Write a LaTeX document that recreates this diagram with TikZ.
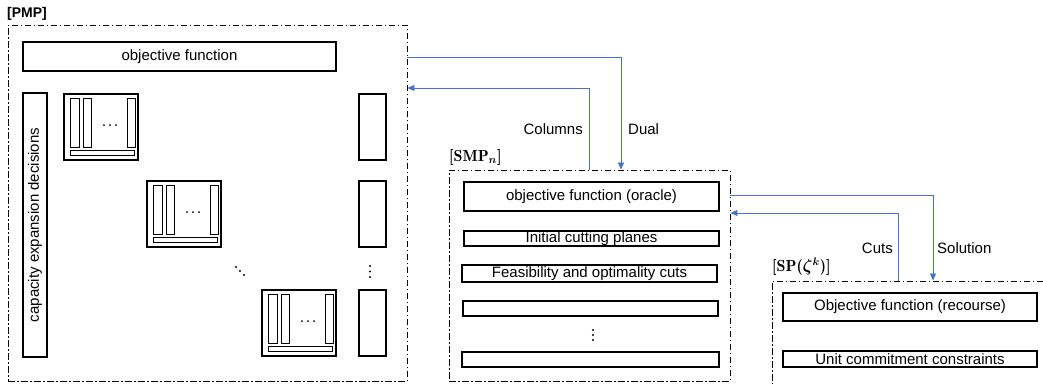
\documentclass[tikz,border=0pt]{standalone}
\usepackage{amsmath,bm}
\usepackage[no-math]{fontspec}
\setmainfont{Liberation Sans}
\usetikzlibrary{arrows.meta}
\definecolor{flowblue}{HTML}{4472C4}
\newcommand{\serifbold}{\fontfamily{lmr}\selectfont\bfseries}
\begin{document}
\begin{tikzpicture}[x=1pt,y=-1pt,
  frame/.style={draw, line width=0.9pt, dash pattern=on 6.5pt off 2.5pt on 1.5pt off 2.5pt, inner sep=0pt},
  box/.style={draw, line width=1.1pt, inner sep=0pt, font=\fontsize{15}{18}\selectfont},
  bar/.style={draw, line width=0.9pt},
  dot/.style={fill, circle, inner sep=0pt, minimum size=2.4pt},
  flow/.style={draw=flowblue, line width=0.8pt, -{Triangle[length=7pt,width=6pt]}},
  lab/.style={font=\fontsize{15}{18}\selectfont, inner sep=0pt},
  title/.style={font=\fontsize{14}{17}\selectfont\bfseries, inner sep=0pt, anchor=west},
  mtitle/.style={font=\fontsize{16}{19}\selectfont\serifbold, inner sep=0pt, anchor=west}]
\useasboundingbox (0,0) rectangle (1043,383);
\clip (0,0) rectangle (1043,383);
% ---------- PMP ----------
\node[title] (pmplab) at (7,14) {[PMP]};
\node[frame, minimum width=399pt, minimum height=356pt] (pmp) at (207.5,203) {};
\node[box, minimum width=313pt, minimum height=29pt] (pobj) at (179.5,56.5) {objective function};
\node[box, minimum width=24pt, minimum height=264pt] (cap) at (35,225) {};
\node[lab, rotate=90] (captext) at (cap.center) {capacity expansion decisions};
\foreach \n/\bx/\by in {b1/64/94, b2/147/181, b3/262/290}{
  \node[box, minimum width=74pt, minimum height=66pt] (\n) at (\bx+37,\by+33) {};
  \begin{scope}[shift={(\bx,\by)}]
    \draw[bar] (6,4) rectangle (15,53);
    \draw[bar] (19,4) rectangle (27,53);
    \draw[bar] (63,4) rectangle (71,53);
    \draw[bar] (6,56) rectangle (70,61);
    \node[dot, minimum size=2pt] (\n d1) at (40,31) {};
    \node[dot, minimum size=2pt] (\n d2) at (46,31) {};
    \node[dot, minimum size=2pt] (\n d3) at (52,31) {};
  \end{scope}
}
\node[box, minimum width=27pt, minimum height=66pt] (r1) at (372.5,127) {};
\node[box, minimum width=27pt, minimum height=66pt] (r2) at (372.5,214) {};
\node[box, minimum width=27pt, minimum height=66pt] (r3) at (372.5,323) {};
\node[dot] (rv1) at (370,266) {};
\node[dot] (rv2) at (370,271.5) {};
\node[dot] (rv3) at (370,277) {};
\node[dot] (dd1) at (236,267) {};
\node[dot] (dd2) at (240,271) {};
\node[dot] (dd3) at (244,275) {};
% ---------- SMP ----------
\node[mtitle] (smplab) at (449,157) {[SMP$_{\bm{n}}$]};
\node[frame, minimum width=281pt, minimum height=211pt] (smp) at (589.5,275.5) {};
\node[box, minimum width=255pt, minimum height=29pt] (soracle) at (591.5,196.5) {objective function (oracle)};
\node[box, minimum width=255pt, minimum height=15pt] (sinit) at (591.5,238.5) {Initial cutting planes};
\node[box, minimum width=255pt, minimum height=17pt] (sfeas) at (589.5,273.5) {Feasibility and optimality cuts};
\node[box, minimum width=255pt, minimum height=15pt] (sempty) at (590.5,308.5) {};
\node[dot] (sv1) at (593,330) {};
\node[dot] (sv2) at (593,335) {};
\node[dot] (sv3) at (593,340) {};
\node[box, minimum width=257pt, minimum height=15pt] (slast) at (590.5,359.5) {};
% ---------- SP ----------
\node[mtitle] (splab) at (772,267) {[SP($\bm{\zeta}^{\bm{k}}$)]};
\node[frame, minimum width=290pt, minimum height=120pt] (sp) at (917,341) {};
\node[box, minimum width=254pt, minimum height=28pt] (spobj) at (910,307) {Objective function (recourse)};
\node[box, minimum width=254pt, minimum height=16pt] (spuc) at (910,359) {Unit commitment constraints};
% ---------- connectors ----------
\coordinate (dualy) at (0,57);
\coordinate (dualx) at (621,0);
\coordinate (coly) at (0,88);
\coordinate (colx) at (589,0);
\coordinate (soly) at (0,195);
\coordinate (solx) at (933,0);
\coordinate (cuty) at (0,213);
\coordinate (cutx) at (898,0);
\draw[flow] (pmp.east |- dualy) -| (smp.north -| dualx);
\draw[flow] (smp.north -| colx) |- (pmp.east |- coly);
\draw[flow] (smp.east |- soly) -| (sp.north -| solx);
\draw[flow] (sp.north -| cutx) |- (smp.east |- cuty);
\node[lab, anchor=east] (collab) at (583,129) {Columns};
\node[lab, anchor=west] (duallab) at (628,129) {Dual};
\node[lab, anchor=east] (cutlab) at (893,248) {Cuts};
\node[lab, anchor=west] (sollab) at (937,248) {Solution};
\end{tikzpicture}
\end{document}
